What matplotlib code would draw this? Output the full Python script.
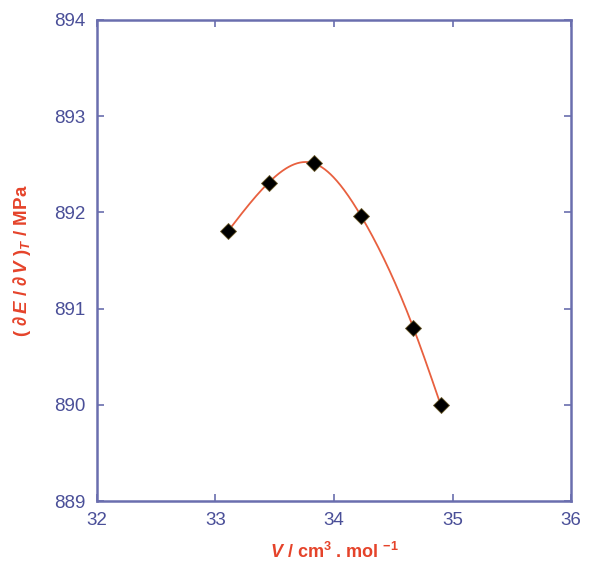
import numpy as np
import matplotlib
matplotlib.use("Agg")
import matplotlib.pyplot as plt

# Data
volume = [33.11, 33.45, 33.83, 34.23, 34.67, 34.90]
dEdV = [891.81, 892.31, 892.51, 891.96, 890.80, 890.00]
x_ticks = [32, 33, 34, 35, 36]
y_ticks = [889, 890, 891, 892, 893, 894]

plt.rcParams['font.family'] = ['Liberation Sans', 'DejaVu Sans']
plt.rcParams['mathtext.fontset'] = 'custom'
plt.rcParams['mathtext.rm'] = 'Liberation Sans:bold'
plt.rcParams['mathtext.it'] = 'Liberation Sans:italic:bold'
plt.rcParams['mathtext.bf'] = 'Liberation Sans:bold'


def natural_spline(x, y, n=300):
    x = np.asarray(x, float)
    y = np.asarray(y, float)
    k = len(x)
    h = np.diff(x)
    A = np.zeros((k, k))
    b = np.zeros(k)
    A[0, 0] = 1
    A[-1, -1] = 1
    for i in range(1, k - 1):
        A[i, i - 1] = h[i - 1]
        A[i, i] = 2 * (h[i - 1] + h[i])
        A[i, i + 1] = h[i]
        b[i] = 6 * ((y[i + 1] - y[i]) / h[i] - (y[i] - y[i - 1]) / h[i - 1])
    M = np.linalg.solve(A, b)
    xs = np.linspace(x[0], x[-1], n)
    ys = np.empty_like(xs)
    for j, xv in enumerate(xs):
        i = min(np.searchsorted(x, xv, side='right') - 1, k - 2)
        i = max(i, 0)
        t1 = x[i + 1] - xv
        t2 = xv - x[i]
        ys[j] = (M[i] * t1 ** 3 / (6 * h[i]) + M[i + 1] * t2 ** 3 / (6 * h[i])
                 + (y[i] / h[i] - M[i] * h[i] / 6) * t1
                 + (y[i + 1] / h[i] - M[i + 1] * h[i] / 6) * t2)
    return xs, ys


axis_col = '#6a6eae'
tick_col = '#4a4f98'
red = '#e5432a'
line_col = '#e8603f'

fig = plt.figure(figsize=(5.9, 5.62), dpi=100)
ax = fig.add_axes([0.164, 0.1085, 0.804, 0.856])

xs, ys = natural_spline(volume, dEdV)
ax.plot(xs, ys, color=line_col, lw=1.3, zorder=2)
ax.plot(volume, dEdV, 'D', color='black', markersize=8.5,
        markeredgecolor='#6b5a2a', markeredgewidth=0.6, zorder=3)

ax.set_xlim(32, 36)
ax.set_ylim(889, 894)
ax.set_xticks(x_ticks)
ax.set_yticks(y_ticks)
ax.set_xticklabels([str(v) for v in x_ticks])
ax.set_yticklabels([str(v) for v in y_ticks])

for s in ax.spines.values():
    s.set_color(axis_col)
    s.set_linewidth(1.8)

ax.tick_params(axis='both', direction='in', length=5, width=1.2, color=axis_col,
               labelcolor=tick_col, labelsize=13.5, top=True, right=True)
ax.tick_params(axis='x', pad=8)
ax.tick_params(axis='y', pad=8)

ax.set_ylabel(r'( $\partial\,\mathit{E}$ / $\partial\,\mathit{V}$ )$_{\mathit{T}}$ / MPa',
              color=red, fontsize=13.5, fontweight='bold', labelpad=10)
ax.yaxis.set_label_coords(-0.135, 0.5)
ax.set_xlabel(r'$\mathit{V}$ / cm$^{3}$ . mol $^{-1}$', color=red, fontsize=13,
              fontweight='bold')
ax.xaxis.set_label_coords(0.5, -0.085)

fig.savefig('out.png', dpi=100)
